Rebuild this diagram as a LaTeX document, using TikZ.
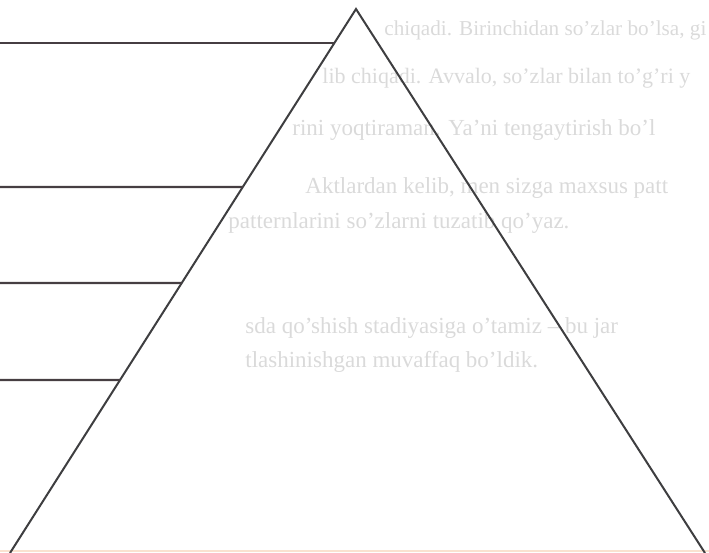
\documentclass[tikz,border=0pt]{standalone}
\usepackage{fontspec}
\setmainfont{Liberation Serif}
\usetikzlibrary{calc}
\definecolor{edge}{RGB}{62,62,64}
\definecolor{rule}{RGB}{70,62,66}
\definecolor{ghost}{RGB}{218,218,218}
\definecolor{basefaint}{RGB}{250,226,208}
\tikzset{
  side/.style={draw=edge, line width=1pt, line join=miter},
  level/.style={draw=rule, line width=1.15pt},
  ghosttext/.style={anchor=west, inner sep=0pt, text=ghost, font=\fontsize{11.5}{13}\selectfont},
  faintbase/.style={draw=basefaint, line width=1.2pt}
}
\begin{document}
\begin{tikzpicture}[x=0.5pt,y=-0.5pt]
\useasboundingbox (0,0) rectangle (709,553);
% faint show-through text
\node[ghosttext, font=\fontsize{10.6}{12}\selectfont] (g1) at (384,30) {chiqadi. Birinchidan so'zlar bo'lsa, gi};
\node[ghosttext, font=\fontsize{11}{12}\selectfont] (g2) at (322,78) {lib chiqadi. Avvalo, so'zlar bilan to'g'ri y};
\node[ghosttext] (g3) at (292,130) {rini yoqtiraman. Ya'ni tengaytirish bo'l};
\node[ghosttext] (g4) at (305,188) {Aktlardan kelib, men sizga maxsus patt};
\node[ghosttext] (g5) at (228,223) {patternlarini so'zlarni tuzatib qo'yaz.};
\node[ghosttext] (g6) at (245,328) {sda qo'shish stadiyasiga o'tamiz – bu jar};
\node[ghosttext] (g7) at (245,362) {tlashinishgan muvaffaq bo'ldik.};
% triangle
\coordinate (apex) at (356,9);
\coordinate (bl) at (10,553);
\coordinate (br) at (705,553);
\draw[faintbase] (0,551) -- (709,551);
\draw[side] (bl) -- (apex) -- (br);
% level lines
\foreach \i/\y in {1/43,2/187,3/283,4/380}{
  \coordinate (e\i) at ($(apex)!{(\y-9)/544}!(bl)$);
  \coordinate (s\i) at (0,\y);
  \draw[level] (s\i) -- (e\i);
}
\end{tikzpicture}
\end{document}
